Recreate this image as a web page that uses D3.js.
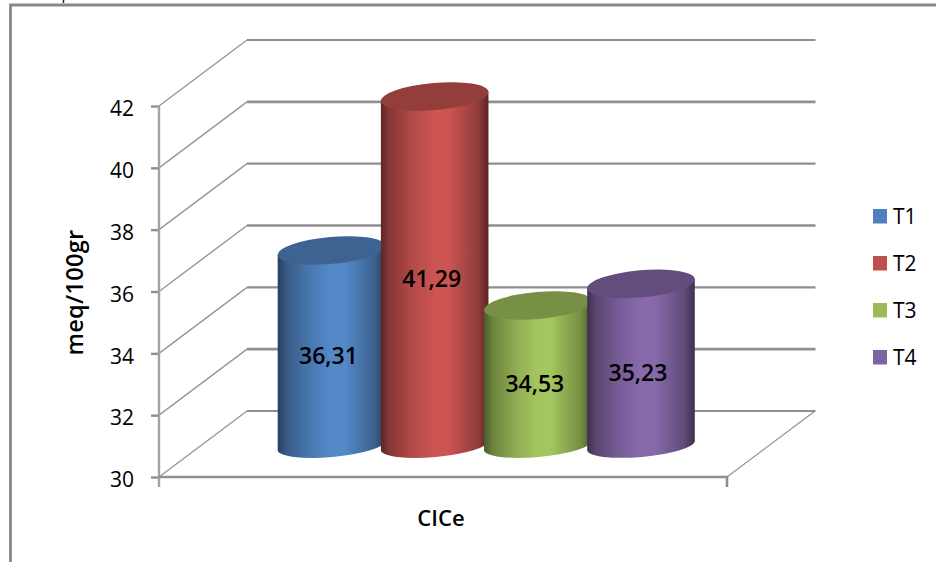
<!DOCTYPE html>
<html>
<head>
<meta charset="utf-8">
<script src="https://cdn.jsdelivr.net/npm/d3@7"></script>
<style>
  html, body { margin: 0; padding: 0; background: #fff; }
  svg { display: block; }
  text { font-family: "Open Sans", sans-serif; fill: #000; }
</style>
</head>
<body>
<svg id="chart" width="936" height="562"></svg>
<script>
// Cation exchange capacity per treatment
const categories = ["T1", "T2", "T3", "T4"];
const values = [36.31, 41.29, 34.53, 35.23];
const valueLabels = ["36,31", "41,29", "34,53", "35,23"];
const colors = ["#4f81bd", "#c0504d", "#9bbb59", "#8064a2"];
const yTicks = [30, 32, 34, 36, 38, 40, 42];
const axisTitle = "meq/100gr";
const categoryTitle = "CICe";

const svg = d3.select("#chart");
const lineColor = "#8f8f8f";

// Front plane of the 3D box and the depth shift to its back wall
const y = d3.scaleLinear().domain([30, 42]).range([477, 106]);
const front = { left: 159, right: 727 };
const depth = { dx: 88, dy: -66 };

// Cylinders stand halfway back on the floor
const yBar = d3.scaleLinear().domain([30, 42]).range([445.5, 74.5]);
const x = d3.scalePoint().domain(categories).range([331.5, 641]);
const rx = 54, ryTop = 13.5, ryBase = 11.5, tilt = -5;
const rad = tilt * Math.PI / 180;
const ex = rx * Math.cos(rad), ey = rx * Math.sin(rad);

// Outer frame
svg.append("path")
  .attr("d", "M10.5,562V5H936")
  .attr("fill", "none")
  .attr("stroke", "#878787")
  .attr("stroke-width", 2.8);
svg.append("line")
  .attr("x1", 63.5).attr("x2", 63.5).attr("y1", 0).attr("y2", 3)
  .attr("stroke", "#222").attr("stroke-width", 1.5);

// Gridlines: thin side wall diagonal, then a heavier run across the back wall
const grid = svg.append("g").attr("fill", "none");
grid.selectAll("path.side")
  .data(yTicks)
  .join("path")
  .attr("class", "side")
  .attr("stroke", "#979797")
  .attr("stroke-width", 1.4)
  .attr("d", d => `M${front.left},${y(d)}L${front.left + depth.dx},${y(d) + depth.dy}`);
grid.selectAll("path.back")
  .data(yTicks)
  .join("path")
  .attr("class", "back")
  .attr("stroke", lineColor)
  .attr("stroke-width", (d, i) => i % 2 ? 2.6 : 2.2)
  .attr("d", d => `M${front.left + depth.dx},${y(d) + depth.dy}H${front.right + depth.dx + 0.5}`);

// Right edge of the floor
grid.append("path")
  .attr("stroke", "#979797")
  .attr("stroke-width", 1.4)
  .attr("d", `M${front.right},${y(30)}L${front.right + depth.dx},${y(30) + depth.dy}`);

// Value axis with outward ticks
const axis = d3.axisLeft(y).tickValues(yTicks).tickSize(8).tickPadding(17);
const axisG = svg.append("g")
  .attr("transform", `translate(${front.left},0)`)
  .call(axis);
axisG.select(".domain").remove();
axisG.selectAll(".tick line").attr("stroke", lineColor).attr("stroke-width", 2.4);
axisG.selectAll(".tick text")
  .style("font-family", '"Open Sans", sans-serif')
  .style("font-size", "21px")
  .attr("dy", "0.46em")
  .attr("fill", "#1c1c1c");
svg.append("line")
  .attr("x1", front.left).attr("x2", front.left)
  .attr("y1", y(42)).attr("y2", y(30) + 10)
  .attr("stroke", "#a2a2a2").attr("stroke-width", 2.4);

// Floor front edge and its closing tick
svg.append("path")
  .attr("d", `M${front.left},${y(30)}H${front.right}V${y(30) + 10}`)
  .attr("fill", "none")
  .attr("stroke", lineColor)
  .attr("stroke-width", 2.6);

// Horizontal shading that rounds each cylinder
const defs = svg.append("defs");
const shade = (c, k) => {
  const o = d3.rgb(c);
  return d3.rgb(Math.min(255, o.r * k), Math.min(255, o.g * k), Math.min(255, o.b * k)).formatHex();
};
const shadeStops = [[0, 0.48], [0.08, 0.7], [0.3, 0.93], [0.5, 1.06], [0.62, 1.06], [0.9, 0.76], [1, 0.48]];
categories.forEach((c, i) => {
  const g = defs.append("linearGradient").attr("id", "cyl-" + c)
    .attr("x1", 0).attr("x2", 1).attr("y1", 0).attr("y2", 0);
  shadeStops.forEach(([offset, k]) => {
    g.append("stop").attr("offset", offset).attr("stop-color", shade(colors[i], k));
  });
});

// Cylinders, later series in front
const bars = svg.append("g").selectAll("g")
  .data(categories)
  .join("g");

bars.append("path")
  .attr("fill", d => `url(#cyl-${d})`)
  .attr("d", (d, i) => {
    const cx = x(d), top = yBar(values[i]), base = yBar(30);
    return `M${cx - ex},${top - ey}` +
      `L${cx + ex},${top + ey}` +
      `L${cx + ex},${base + ey}` +
      `A${rx},${ryBase} ${tilt} 0 1 ${cx - ex},${base - ey}Z`;
  });

bars.append("ellipse")
  .attr("rx", rx).attr("ry", ryTop)
  .attr("fill", (d, i) => shade(colors[i], 0.77))
  .attr("transform", (d, i) => `translate(${x(d)},${yBar(values[i])}) rotate(${tilt})`);

bars.append("text")
  .attr("x", d => x(d) - 3)
  .attr("y", (d, i) => (yBar(values[i]) + yBar(30)) / 2 + 8)
  .attr("dy", "0.36em")
  .attr("text-anchor", "middle")
  .attr("font-size", 23)
  .attr("font-weight", 600)
  .text((d, i) => valueLabels[i]);

// Axis titles
svg.append("text")
  .attr("transform", "translate(83,292.5) rotate(-90)")
  .attr("text-anchor", "middle")
  .attr("font-size", 23.5)
  .attr("font-weight", 600)
  .attr("letter-spacing", 0.3)
  .text(axisTitle);
svg.append("text")
  .attr("x", 441).attr("y", 526)
  .attr("text-anchor", "middle")
  .attr("font-size", 22)
  .attr("font-weight", 600)
  .text(categoryTitle);

// Legend
const legendY = d3.scalePoint().domain(categories).range([216, 357]);
const legend = svg.append("g").selectAll("g")
  .data(categories)
  .join("g")
  .attr("transform", d => `translate(873,${legendY(d)})`);
legend.append("rect")
  .attr("y", -7).attr("width", 14).attr("height", 14.5)
  .attr("fill", (d, i) => colors[i]);
legend.append("text")
  .attr("x", 20).attr("y", 0).attr("dy", "0.36em")
  .attr("font-size", 21)
  .attr("fill", "#1c1c1c")
  .text(d => d);
</script>
</body>
</html>
